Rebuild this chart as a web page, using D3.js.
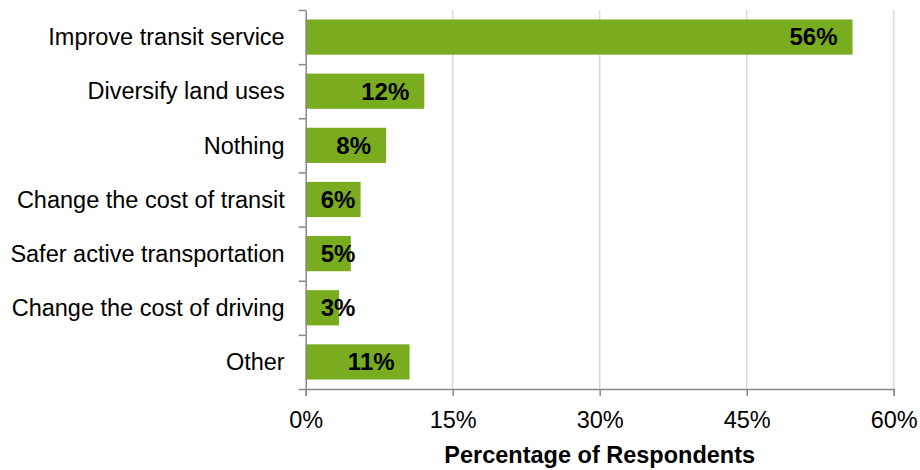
<!DOCTYPE html>
<html>
<head>
<meta charset="utf-8">
<script src="https://cdn.jsdelivr.net/npm/d3@7"></script>
<style>
  html, body { margin: 0; padding: 0; background: #fff; }
  svg { display: block; font-family: "Liberation Sans", Arial, sans-serif; }
</style>
</head>
<body>
<svg id="chart" width="920" height="470"></svg>
<script>
// Survey answers and share of respondents (%)
const categories = [
  "Improve transit service",
  "Diversify land uses",
  "Nothing",
  "Change the cost of transit",
  "Safer active transportation",
  "Change the cost of driving",
  "Other"
];
const values = [55.8, 12.1, 8.2, 5.6, 4.6, 3.4, 10.6];
const xTicks = [0, 15, 30, 45, 60];
const xTitle = "Percentage of Respondents";

const svg = d3.select("#chart");
const plotLeft = 305.7, plotRight = 893.7, plotTop = 10, plotBottom = 389;
const fontSize = 23.5;

const x = d3.scaleLinear().domain([0, 60]).range([plotLeft, plotRight]);
const y = d3.scaleBand().domain(categories).range([plotTop, plotBottom])
  .paddingInner(0.35).paddingOuter(0.175);
// category boundaries for the left axis ticks
const yEdge = d3.scaleLinear().domain([0, categories.length]).range([plotTop, plotBottom]);

// vertical gridlines
svg.append("g").selectAll("line").data(xTicks.filter(d => d > 0)).join("line")
  .attr("x1", d => x(d)).attr("x2", d => x(d))
  .attr("y1", plotTop).attr("y2", plotBottom)
  .attr("stroke", "#d9d9d9").attr("stroke-width", 1.5);

// bars
svg.append("g").selectAll("rect").data(values).join("rect")
  .attr("x", x(0))
  .attr("y", (d, i) => y(categories[i]))
  .attr("width", d => x(d) - x(0))
  .attr("height", y.bandwidth())
  .attr("fill", "#79ac1f");

// bottom axis
const xAxis = svg.append("g")
  .attr("transform", `translate(0,${plotBottom})`)
  .call(d3.axisBottom(x).tickValues(xTicks).tickSize(7).tickPadding(15)
    .tickFormat(d => d + "%"));
xAxis.select(".domain").attr("stroke", "#898989").attr("stroke-width", 1.5);
xAxis.selectAll(".tick line").attr("stroke", "#898989").attr("stroke-width", 1.5);
xAxis.selectAll(".tick text")
  .attr("fill", "#000").attr("font-size", fontSize)
  .attr("font-family", "'Liberation Sans', Arial, sans-serif");

// left axis with ticks between categories
const yAxis = svg.append("g")
  .attr("transform", `translate(${plotLeft},0)`)
  .call(d3.axisLeft(yEdge).tickValues(d3.range(categories.length + 1))
    .tickSize(7).tickSizeOuter(0).tickFormat(""));
yAxis.select(".domain").attr("stroke", "#898989").attr("stroke-width", 1.5);
yAxis.selectAll(".tick line").attr("stroke", "#898989").attr("stroke-width", 1.5);

// category labels
svg.append("g").selectAll("text").data(categories).join("text")
  .attr("x", plotLeft - 21)
  .attr("y", d => y(d) + y.bandwidth() / 2)
  .attr("dy", "0.35em")
  .attr("text-anchor", "end")
  .attr("font-size", fontSize)
  .attr("fill", "#000")
  .text(d => d);

// value labels: inside the bar end, kept clear of the axis
svg.append("g").selectAll("text").data(values).join("text")
  .attr("y", (d, i) => y(categories[i]) + y.bandwidth() / 2)
  .attr("dy", "0.35em")
  .attr("font-size", 24)
  .attr("font-weight", "bold")
  .attr("fill", "#000")
  .text(d => Math.round(d) + "%")
  .each(function(d) {
    const w = this.getComputedTextLength();
    const x0 = Math.max(x(d) - 15 - w, x(0) + 15);
    d3.select(this).attr("x", x0);
  });

// axis title
svg.append("text")
  .attr("x", (plotLeft + plotRight) / 2)
  .attr("y", 463)
  .attr("text-anchor", "middle")
  .attr("font-size", fontSize)
  .attr("font-weight", "bold")
  .attr("fill", "#000")
  .text(xTitle);
</script>
</body>
</html>
